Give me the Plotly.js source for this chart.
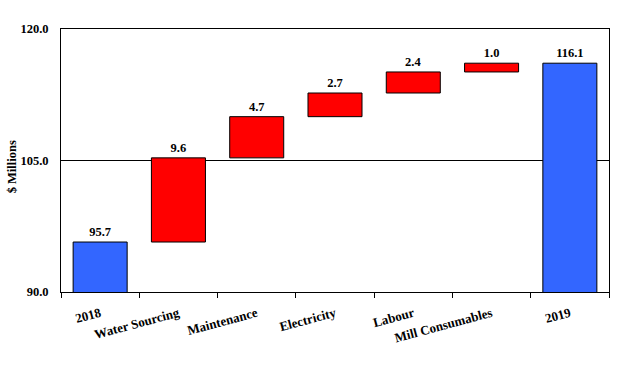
<!DOCTYPE html>
<html><head><meta charset="utf-8">
<script src="https://cdn.plot.ly/plotly-3.0.1.min.js"></script>
<style>body{margin:0;background:#fff}#c{width:624px;height:367px}</style>
</head><body><div id="c"></div>
<script>
const categories = ["2018","Water Sourcing","Maintenance","Electricity","Labour","Mill Consumables","2019"];
const values = [95.7, 9.6, 4.7, 2.7, 2.4, 1.0, 116.1];
const measures = ["absolute","relative","relative","relative","relative","relative","total"];
const labels = ["95.7","9.6","4.7","2.7","2.4","1.0","116.1"];
const yTicks = [90, 105, 120];
const yTickText = ["90.0","105.0","120.0"];
const yTitle = "$ Millions";

const fam = "'Liberation Serif', 'Times New Roman', serif";
const font = {family:fam, size:12, color:"#000"};
const bold = s => "<b>"+s+"</b>";

const trace = {
  type:"waterfall",
  x:categories, y:values, measure:measures,
  text:labels.map(bold), textposition:"outside",
  textfont:{family:fam,size:12.5,color:"#000"},
  cliponaxis:false,
  connector:{visible:false},
  increasing:{marker:{color:"#ff0000",line:{color:"#000",width:1}}},
  decreasing:{marker:{color:"#ff0000",line:{color:"#000",width:1}}},
  totals:{marker:{color:"#3366ff",line:{color:"#000",width:1}}},
  hoverinfo:"none"
};
const layout = {
  width:624, height:367,
  margin:{l:61,r:15,t:29,b:75},
  paper_bgcolor:"#fff", plot_bgcolor:"#fff",
  font:font, showlegend:false, waterfallgap:0.31,
  xaxis:{type:"category", tickangle:-15, ticks:"outside", ticklen:5, tickcolor:"#000",
    tickson:"boundaries", showline:true, linecolor:"#000", linewidth:1, mirror:true,
    tickvals:categories, ticktext:categories.map(bold), ticklabelstandoff:8,
    tickfont:{family:fam,size:13,color:"#000"}},
  yaxis:{range:[90,120], tickvals:yTicks, ticktext:yTickText.map(bold), ticks:"",
    ticklabelstandoff:9,
    showgrid:true, gridcolor:"#000", gridwidth:1, zeroline:false,
    showline:true, linecolor:"#000", linewidth:1, mirror:true,
    tickfont:{family:fam,size:12.5,color:"#000"}},
  annotations:[{text:bold(yTitle), xref:"paper", yref:"paper", x:-0.089, y:0.475,
    xanchor:"center", yanchor:"middle", textangle:-90, showarrow:false,
    font:{family:fam,size:12.5,color:"#000"}}]
};
Plotly.newPlot("c",[trace],layout,{staticPlot:true}).then(()=>{
  // the opening (2018) bar is a starting total: colour it like the closing total
  const pts = document.querySelectorAll("#c .point path");
  if (pts.length) { pts[0].style.fill = "#3366ff"; }
});
</script></body></html>
